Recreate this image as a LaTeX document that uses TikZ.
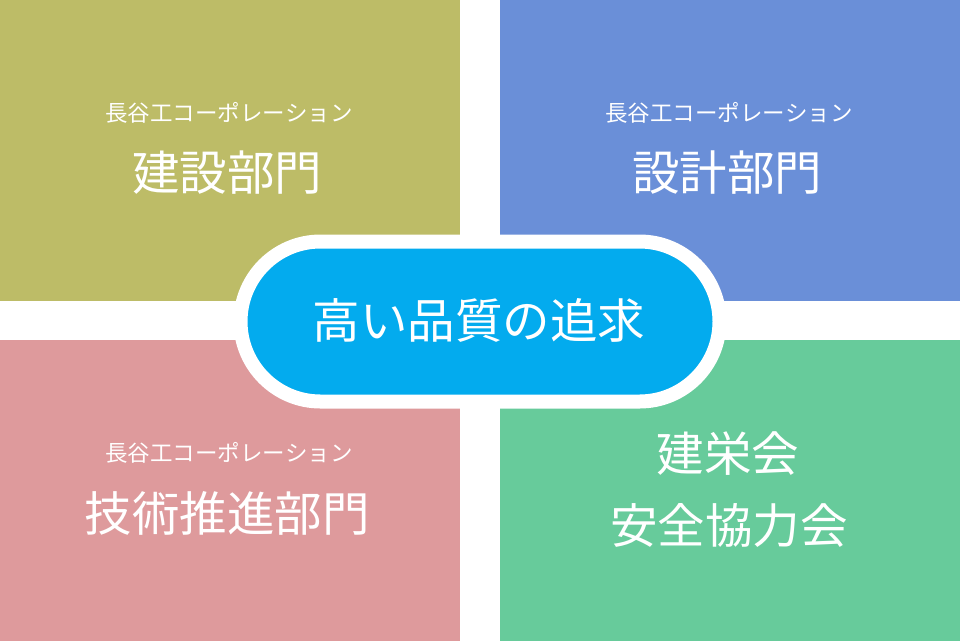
\documentclass[tikz,border=0pt]{standalone}
\usepackage{fontspec}
\setmainfont{Noto Sans CJK JP}
\definecolor{olive}{HTML}{BDBC67}
\definecolor{bluish}{HTML}{6A8FD8}
\definecolor{pinkish}{HTML}{DE9A9C}
\definecolor{greenish}{HTML}{67CB9B}
\definecolor{pillblue}{HTML}{03ABEE}
\begin{document}
\begin{tikzpicture}[x=1pt,y=-1pt,
  panel/.style={draw=none,inner sep=0pt,outer sep=0pt,minimum width=460pt,minimum height=301pt,anchor=north west},
  small/.style={text=white,inner sep=0pt,font=\fontsize{22.5}{22.5}\selectfont},
  big/.style={text=white,inner sep=0pt,font=\fontsize{47.5}{47.5}\selectfont},
  pill/.style={fill=pillblue,draw=white,line width=14pt,rounded corners=80pt,minimum width=479pt,minimum height=160pt,inner sep=0pt}]
\useasboundingbox (0,0) rectangle (960,641);
\fill[white] (0,0) rectangle (960,641);
\node[panel,fill=olive] (tl) at (0,0) {};
\node[panel,fill=bluish] (tr) at (500,0) {};
\node[panel,fill=pinkish] (bl) at (0,340) {};
\node[panel,fill=greenish] (br) at (500,340) {};
\node[small] (tlsub) at (229,113) {長谷工コーポレーション};
\node[big] (tlmain) at (227,173) {建設部門};
\node[small] (trsub) at (729,113) {長谷工コーポレーション};
\node[big] (trmain) at (727,173) {設計部門};
\node[small] (blsub) at (229,453) {長谷工コーポレーション};
\node[big] (blmain) at (227,513) {技術推進部門};
\node[big] (brmain1) at (728,454) {建栄会};
\node[big] (brmain2) at (729,525) {安全協力会};
\node[pill] (center) at (480,321.5) {};
\node[big] (centertext) at (479,320) {高い品質の追求};
\end{tikzpicture}
\end{document}
